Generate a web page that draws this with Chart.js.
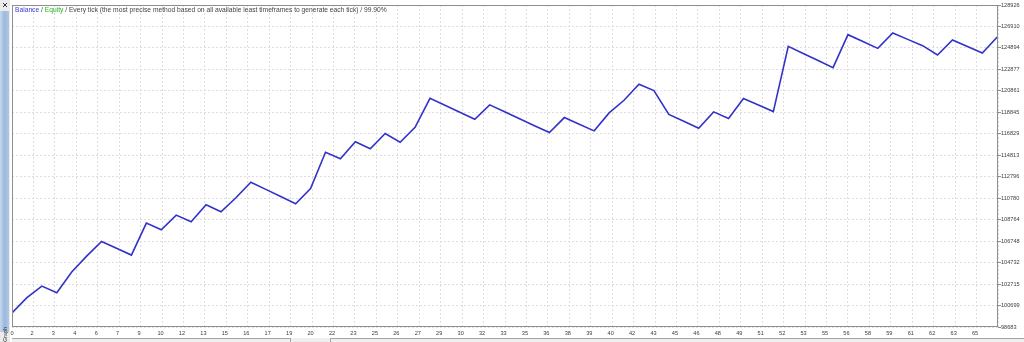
<!DOCTYPE html>
<html>
<head>
<meta charset="utf-8">
<script src="https://cdn.jsdelivr.net/npm/chart.js@4.4.1/dist/chart.umd.min.js"></script>
<style>
html, body { margin: 0; padding: 0; background: #fff; }
#wrap { position: relative; width: 1024px; height: 342px; }
</style>
</head>
<body>
<div id="wrap"><canvas id="graph" width="1024" height="342"></canvas></div>
<script>
// balance after each trade (0..66)
const balance = [
    100000, 101441, 102529, 101910, 103842, 105343, 106722, 106074, 105437, 108438,
    107819, 109189, 108570, 110164, 109508, 110821, 112284, 111609, 110933, 110258,
    111693, 115098, 114479, 116074, 115417, 116852, 116036, 117443, 120163, 119507,
    118850, 118193, 119544, 118897, 118240, 117593, 116946, 118353, 117729, 117105,
    118794, 119976, 121476, 120885, 118650, 118006, 117349, 118888, 118259, 120135,
    119525, 118916, 125041, 124375, 123709, 123043, 126138, 125496, 124853, 126298,
    125697, 125106, 124234, 125641, 125031, 124422, 125923
];

// labels under the vertical grid lines
const xLabels = ['0', '2', '3', '4', '6', '7', '9', '10', '12', '13', '15', '16', '17', '19', '20', '22',
    '23', '25', '26', '27', '29', '30', '32', '33', '35', '36', '38', '39', '40', '42', '43',
    '45', '46', '48', '49', '51', '52', '53', '55', '56', '58', '59', '61', '62', '63', '65'];

// price scale on the right
const yTicks = [98683, 100699, 102715, 104732, 106748, 108764, 110780, 112796,
    114813, 116829, 118845, 120861, 122877, 124894, 126910, 128926];

const titleParts = [
    ['Balance', '#3b3bd2'],
    [' / ', '#444444'],
    ['Equity', '#22b322'],
    [' / Every tick (the most precise method based on all available least timeframes to generate each tick) / 99.90%', '#444444']
];

const X_MAX = 66.05;
const X_GRIDS = 46;
const smallFont = { family: 'Liberation Sans', size: 5.6 };

//window chrome: side panel, frame, title, bottom strip
const terminalChrome = {
    id: 'terminalChrome',
    beforeDraw(chart) {
        const ctx = chart.ctx;
        ctx.save();
        ctx.fillStyle = '#ffffff';
        ctx.fillRect(0, 0, chart.width, chart.height);

        ctx.fillStyle = '#ebebeb';
        ctx.fillRect(0, 0, 10, chart.height);
        let g = ctx.createLinearGradient(0, 0, 9, 0);
        g.addColorStop(0, '#c6d8ee');
        g.addColorStop(0.5, '#9bb9dc');
        g.addColorStop(1, '#b0c8e4');
        ctx.fillStyle = g;
        ctx.fillRect(0, 11, 9, 321);

        ctx.strokeStyle = '#333';
        ctx.lineWidth = 1;
        ctx.beginPath();
        ctx.moveTo(3, 3); ctx.lineTo(7, 7);
        ctx.moveTo(7, 3); ctx.lineTo(3, 7);
        ctx.stroke();

        ctx.translate(7, 342);
        ctx.rotate(-Math.PI / 2);
        ctx.font = '5.5px "Liberation Sans"';
        ctx.fillStyle = '#333';
        ctx.fillText('Graph', 0, 0);
        ctx.restore();
    },
    afterDraw(chart) {
        const { ctx, chartArea: a } = chart;
        ctx.save();
        ctx.strokeStyle = '#8e8e8e';
        ctx.lineWidth = 1;
        ctx.strokeRect(a.left + 0.5, a.top + 0.5, a.right - a.left - 1, a.bottom - a.top - 1);

        ctx.font = '6.7px "Liberation Sans"';
        ctx.textBaseline = 'alphabetic';
        let x = a.left + 3;
        titleParts.forEach(([text, color]) => {
            ctx.fillStyle = color;
            ctx.fillText(text, x, 11.5);
            x += ctx.measureText(text).width;
        });

        ctx.fillStyle = '#efefef';
        ctx.fillRect(12, 338, chart.width - 12, 4);
        ctx.strokeStyle = '#a5a5a5';
        ctx.beginPath();
        ctx.moveTo(12, 338.5); ctx.lineTo(290, 338.5);
        ctx.moveTo(330, 338.5); ctx.lineTo(chart.width, 338.5);
        ctx.moveTo(290.5, 338); ctx.lineTo(290.5, 342);
        ctx.moveTo(330.5, 338); ctx.lineTo(330.5, 342);
        ctx.stroke();
        ctx.restore();
    }
};

new Chart(document.getElementById('graph'), {
    type: 'line',
    data: {
        datasets: [{
            data: balance.map((v, i) => ({ x: i, y: v })),
            borderColor: '#3232c8',
            borderWidth: 1.6,
            pointRadius: 0,
            tension: 0,
            fill: false
        }]
    },
    options: {
        responsive: false,
        animation: false,
        devicePixelRatio: 1,
        layout: { padding: { left: 12, top: 5, right: 0, bottom: 0 } },
        plugins: { legend: { display: false }, tooltip: { enabled: false } },
        scales: {
            x: {
                type: 'linear',
                min: 0,
                max: X_MAX,
                afterBuildTicks: s => {
                    s.ticks = Array.from({ length: X_GRIDS + 1 }, (_, k) => ({ value: k * X_MAX / X_GRIDS }));
                },
                afterFit: s => { s.height = 15; },
                grid: { color: '#dedede', drawTicks: false },
                border: { display: false, dash: [2, 2] },
                ticks: {
                    autoSkip: false,
                    maxRotation: 0,
                    align: 'inner',
                    labelOffset: -1.5,
                    padding: 3,
                    color: '#404040',
                    font: smallFont,
                    callback: (v, i) => xLabels[i] ?? ''
                }
            },
            y: {
                position: 'right',
                min: yTicks[0],
                max: yTicks[yTicks.length - 1],
                afterBuildTicks: s => { s.ticks = yTicks.map(v => ({ value: v })); },
                afterFit: s => { s.width = 26; },
                grid: { color: '#dedede', tickColor: '#8e8e8e', tickLength: 3 },
                border: { display: false, dash: [2, 2] },
                ticks: {
                    autoSkip: false,
                    padding: 0,
                    color: '#404040',
                    font: smallFont,
                    callback: v => String(v)
                }
            }
        }
    },
    plugins: [terminalChrome]
});
</script>
</body>
</html>
